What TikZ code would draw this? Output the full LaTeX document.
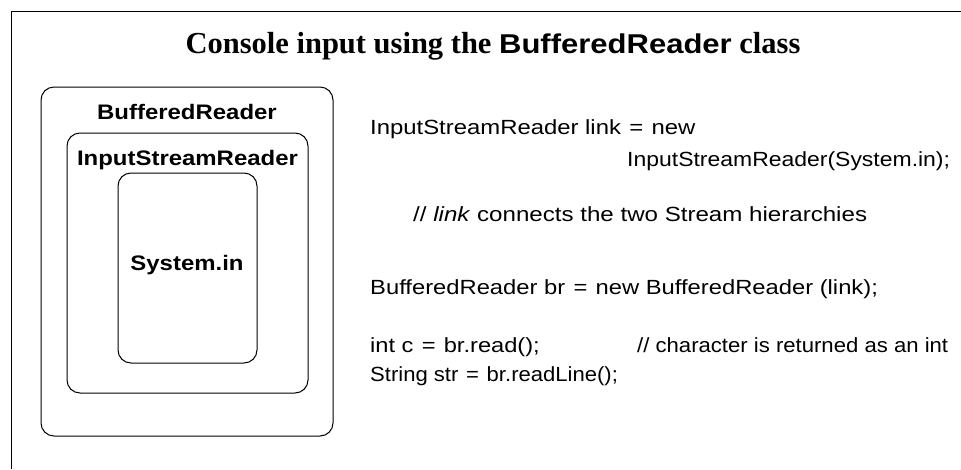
\documentclass[tikz,border=0pt]{standalone}
\usepackage{fontspec}
\usepackage{graphicx}
\setmainfont{Liberation Serif}
\setsansfont{Liberation Sans}
\newfontfamily\codefont[FakeStretch=1.12]{Liberation Sans}
\newfontfamily\lblfont[FakeStretch=1.14]{Liberation Sans}
\newcommand{\eqsym}{\hspace{8pt}=\hspace{8pt}}
\newcommand{\hs}[2]{\scalebox{#1}[1]{#2}}
\begin{document}
\begin{tikzpicture}[x=1pt,y=-1pt,
  frame/.style={draw,line width=1pt},
  box/.style={draw,line width=1pt,rounded corners=13pt,inner sep=0pt},
  lbl/.style={inner sep=0pt,anchor=base,font=\lblfont\bfseries\fontsize{21}{25}\selectfont},
  code/.style={inner sep=0pt,anchor=base west,font=\codefont\fontsize{20.5}{24}\selectfont},
  ttl/.style={inner sep=0pt,anchor=base,font=\bfseries\fontsize{30.5}{36}\selectfont}]
\useasboundingbox (0,0) rectangle (961,469);
\coordinate (fbl) at (11,469);
\coordinate (ftl) at (11,11);
\coordinate (ftr) at (961,11);
\draw[frame] (fbl) -- (ftl) -- (ftr);
\node[ttl] (title) at (493,53) {Console input using the {\lblfont\fontsize{27.2}{32}\selectfont BufferedReader} class};
\node[box,minimum width=292pt,minimum height=349pt] (outer) at (187,261.5) {};
\node[box,minimum width=241pt,minimum height=260pt] (middle) at (187.5,263) {};
\node[box,minimum width=139pt,minimum height=190pt] (inner) at (187.5,268) {};
\node[lbl] (lbr) at (187,119) {BufferedReader};
\node[lbl] (lisr) at (187.5,165) {InputStreamReader};
\node[lbl] (lsys) at (187,270) {System.in};
\node[code] (c1) at (370,134) {\hs{1.04}{InputStreamReader link\eqsym new}};
\node[code] (c2) at (627,166) {InputStreamReader(System.in);};
\node[code] (c3) at (413,221) {\hs{1.05}{// \textit{link} connects the two Stream hierarchies}};
\node[code] (c4) at (370,294) {\hs{1.035}{BufferedReader br\eqsym new BufferedReader (link);}};
\node[code] (c5) at (370,352) {\hs{1.03}{int c\eqsym br.read();}};
\node[code] (c6) at (637,352) {\hs{0.963}{// character is returned as an int}};
\node[code] (c7) at (370,381) {\hs{0.961}{String str\eqsym br.readLine();}};
\end{tikzpicture}
\end{document}
